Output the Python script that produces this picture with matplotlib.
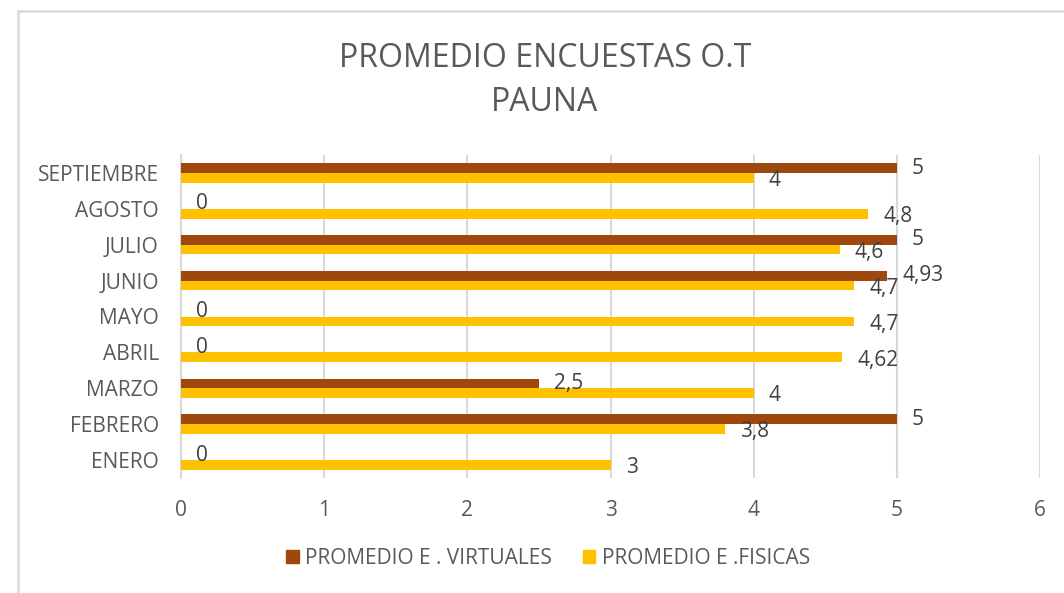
import matplotlib
matplotlib.use("Agg")
import matplotlib.pyplot as plt
from matplotlib import font_manager
from matplotlib.patches import Rectangle, Patch

categories = ["ENERO", "FEBRERO", "MARZO", "ABRIL", "MAYO", "JUNIO", "JULIO", "AGOSTO", "SEPTIEMBRE"]
virtuales = [0, 5, 2.5, 0, 0, 4.93, 5, 0, 5]
fisicas = [3, 3.8, 4, 4.62, 4.7, 4.7, 4.6, 4.8, 4]
virt_labels = ["0", "5", "2,5", "0", "0", "4,93", "5", "0", "5"]
fis_labels = ["3", "3,8", "4", "4,62", "4,7", "4,7", "4,6", "4,8", "4"]
xticks = [0, 1, 2, 3, 4, 5, 6]
series_names = ["PROMEDIO E . VIRTUALES", "PROMEDIO E .FISICAS"]
title = "PROMEDIO ENCUESTAS O.T\nPAUNA"

names = {f.name for f in font_manager.fontManager.ttflist}
fam = "Liberation Sans Narrow" if "Liberation Sans Narrow" in names else "Open Sans"
plt.rcParams["font.family"] = [fam, "DejaVu Sans"]

BROWN = "#9E480E"
YELLOW = "#FFC000"
TXT = "#595959"
GRID = "#D9D9D9"

fig = plt.figure(figsize=(10.64, 5.93), dpi=100)
fig.patches.append(Rectangle((17.5/1064, -0.1), 1.2, 1 - 11/593 + 0.1, transform=fig.transFigure,
                             fill=False, edgecolor=GRID, linewidth=1.8, zorder=0))

ax = fig.add_axes([181/1064, 1 - 478/593, (1040 - 181)/1064, (478 - 155)/593])
h = 0.27
ypos = list(range(len(categories)))
ax.barh([y + h/2 for y in ypos], virtuales, height=h, color=BROWN, zorder=3)
ax.barh([y - h/2 for y in ypos], fisicas, height=h, color=YELLOW, zorder=3)

for y, v, lab in zip(ypos, virtuales, virt_labels):
    ax.annotate(lab, (v, y + h/2), xytext=(11, 0), textcoords="offset points",
                va="center", ha="left", fontsize=15, color="#404040", zorder=4)
for y, v, lab in zip(ypos, fisicas, fis_labels):
    ax.annotate(lab, (v, y - h/2), xytext=(11, -2), textcoords="offset points",
                va="center", ha="left", fontsize=15, color="#404040", zorder=4)

ax.set_xlim(0, 6)
ax.set_ylim(-0.5, len(categories) - 0.5)
ax.set_xticks(xticks)
ax.set_xticklabels([str(t) for t in xticks])
ax.set_yticks(ypos)
ax.set_yticklabels(categories)
ax.tick_params(axis="both", length=0, colors=TXT, labelsize=15)
ax.tick_params(axis="x", pad=16)
ax.tick_params(axis="y", pad=16)
ax.grid(axis="x", color=GRID, linewidth=1.5, zorder=0)
ax.set_axisbelow(True)
for s in ["top", "right", "bottom"]:
    ax.spines[s].set_visible(False)
ax.spines["left"].set_color(GRID)
ax.spines["left"].set_linewidth(1.5)

fig.text(0.512, 0.864, title, ha="center", va="center", fontsize=23, color=TXT, linespacing=1.45)

handles = [Patch(color=BROWN), Patch(color=YELLOW)]
fig.legend(handles, series_names, loc="center", bbox_to_anchor=(0.515, 0.059), ncol=2,
           frameon=False, fontsize=15, labelcolor=TXT, handlelength=0.6, handleheight=0.6,
           handletextpad=0.3, columnspacing=1.5)

fig.savefig("out.png", dpi=100)
